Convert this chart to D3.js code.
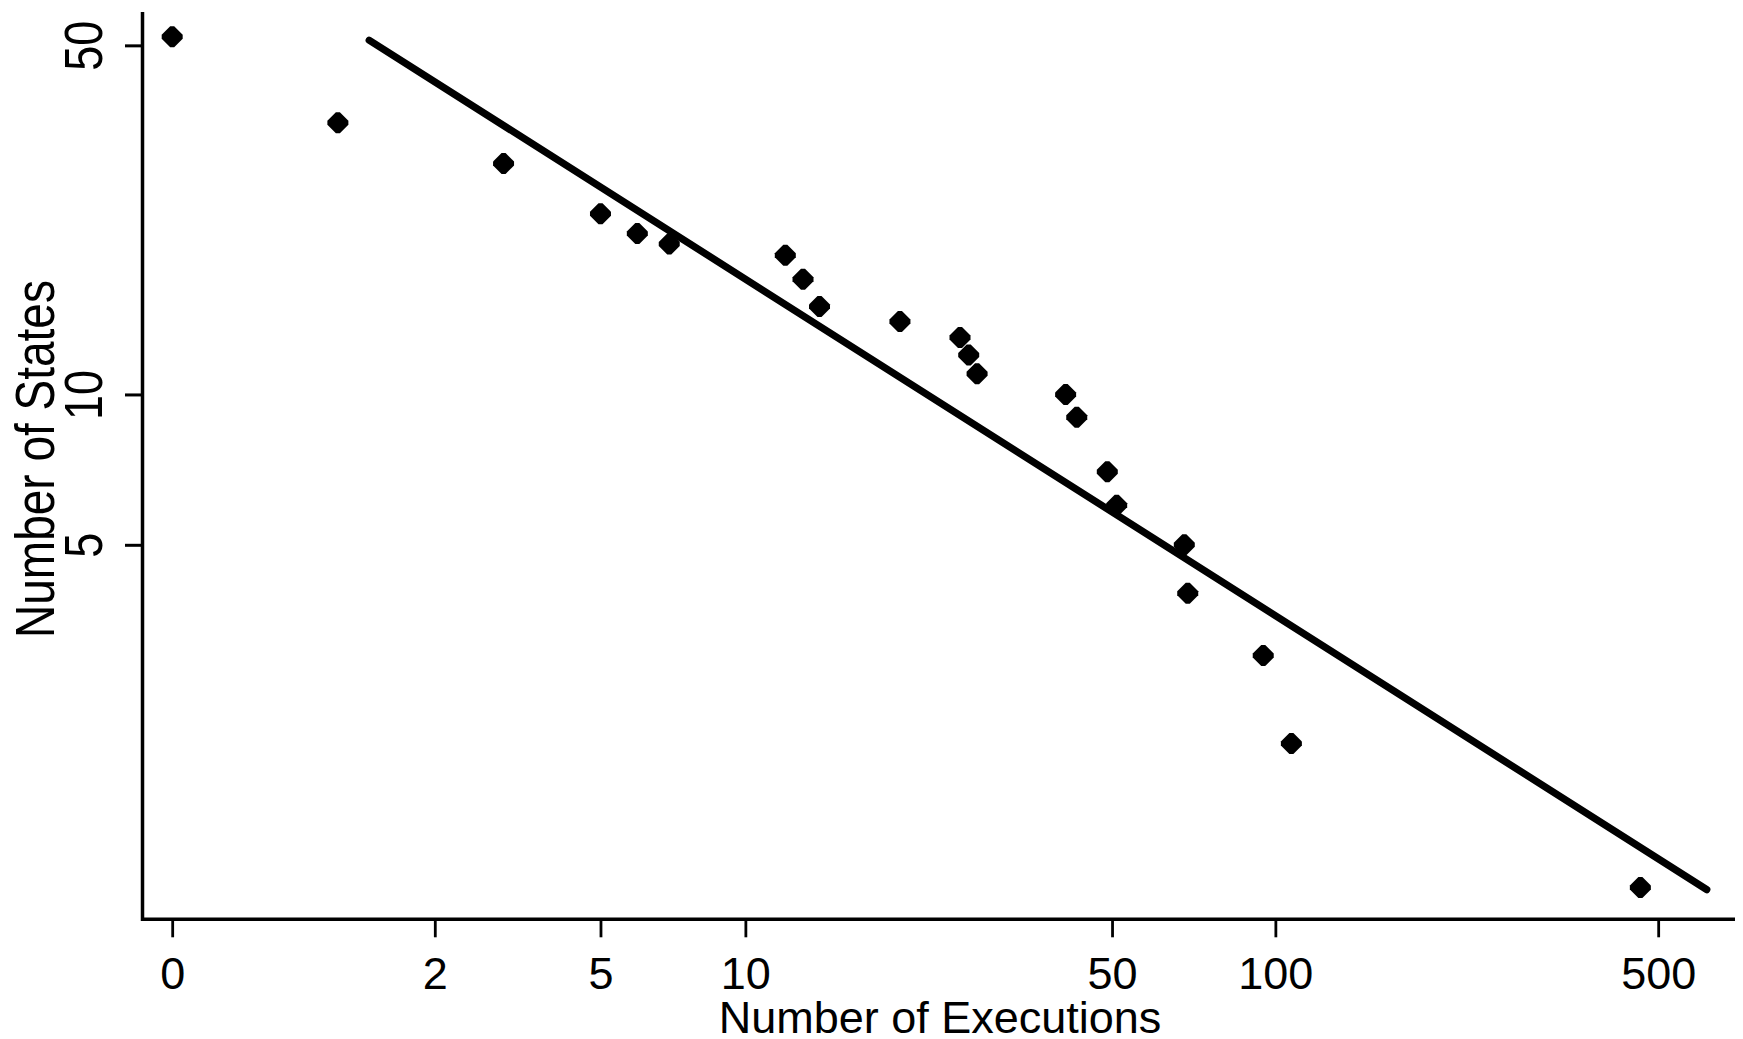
<!DOCTYPE html>
<html>
<head>
<meta charset="utf-8">
<script src="https://cdn.jsdelivr.net/npm/d3@7"></script>
<style>
  html, body { margin: 0; padding: 0; background: #fff; }
  svg { display: block; }
  text { font-family: "Liberation Sans", Arial, sans-serif; fill: #000; }
</style>
</head>
<body>
<svg id="chart" width="1743" height="1039"></svg>
<script>
// ---- data ----
const executions = [0, 1, 3, 5, 6, 7, 12, 13, 14, 20, 26, 27, 28, 41, 43, 49, 51, 68, 69, 95, 107, 464];
const states     = [52, 35, 29, 23, 21, 20, 19, 17, 15, 14, 13, 12, 11, 10, 9, 7, 6, 5, 4, 3, 2, 1.03];
// fitted line end points
const fitExecutions = [1.28, 613];
const fitStates     = [51.2, 1.02];
// tick labels
const xTickLabels = [0, 2, 5, 10, 50, 100, 500];
const yTickLabels = [5, 10, 50];
const xTitle = "Number of Executions";
const yTitle = "Number of States";

// ---- layout ----
const W = 1743, H = 1039;
const plotLeft = 142.5, plotRight = 1735, plotTop = 12, plotBottom = 919.3;

const svg = d3.select("#chart");
svg.append("rect").attr("width", W).attr("height", H).attr("fill", "#fff");

// x is plotted as log10(executions + 1)
const x = d3.scaleLog().domain([0.8832, 690.9]).range([plotLeft, plotRight]);
const y = d3.scaleLog().domain([0.8895, 58.31]).range([plotBottom, plotTop]);
const px = n => x(n + 1);

// fitted line
const fit = fitExecutions.map((e, i) => [e, fitStates[i]]);
svg.append("path")
  .attr("d", d3.line().x(d => px(d[0])).y(d => y(d[1]))(fit))
  .attr("fill", "none").attr("stroke", "#000")
  .attr("stroke-width", 7.2).attr("stroke-linecap", "round");

// points (filled diamonds)
const a = 10.5, b = 2;
const diamond = `M${-b},${-a}L${b},${-a}L${a},${-b}L${a},${b}L${b},${a}L${-b},${a}L${-a},${b}L${-a},${-b}Z`;
svg.append("g").selectAll("path")
  .data(executions.map((e, i) => ({e, s: states[i]})))
  .join("path")
  .attr("d", diamond)
  .attr("transform", d => `translate(${px(d.e)},${y(d.s)})`)
  .attr("fill", "#000");

// L-shaped box
svg.append("path")
  .attr("d", `M${plotLeft},${plotTop}V${plotBottom}H${plotRight}`)
  .attr("fill", "none").attr("stroke", "#000").attr("stroke-width", 3.5)
  .attr("stroke-linejoin", "miter").attr("stroke-linecap", "butt");

// x axis
const xAxis = d3.axisBottom(x)
  .tickValues(xTickLabels.map(d => d + 1))
  .tickFormat(d => String(Math.round(d - 1)))
  .tickSize(18).tickSizeOuter(0);
const gx = svg.append("g").attr("transform", `translate(0,${plotBottom})`).call(xAxis);
gx.select(".domain").remove();
gx.selectAll(".tick line").attr("stroke", "#000").attr("stroke-width", 2.8);
gx.selectAll(".tick text")
  .attr("y", 69.7).attr("dy", null)
  .style("font-size", "45px")
  .style("font-family", '"Liberation Sans", Arial, sans-serif')
  .attr("fill", "#000");
gx.attr("font-size", null).attr("font-family", null);

// y axis
const yAxis = d3.axisLeft(y)
  .tickValues(yTickLabels)
  .tickFormat(d => String(d))
  .tickSize(17.5).tickSizeOuter(0);
const gy = svg.append("g").attr("transform", `translate(${plotLeft},0)`).call(yAxis);
gy.select(".domain").remove();
gy.selectAll(".tick line").attr("stroke", "#000").attr("stroke-width", 3);
gy.selectAll(".tick text")
  .attr("x", null).attr("dy", null)
  .attr("text-anchor", "middle")
  .attr("transform", `translate(${101.5 - plotLeft},0) rotate(-90) scale(1,1.2)`)
  .style("font-size", "45px")
  .style("font-family", '"Liberation Sans", Arial, sans-serif')
  .attr("fill", "#000");
gy.attr("font-size", null).attr("font-family", null);

// titles
svg.append("text")
  .attr("x", 940).attr("y", 1032.7)
  .attr("text-anchor", "middle")
  .style("font-size", "45px")
  .text(xTitle);
svg.append("text")
  .attr("transform", `translate(54,459) rotate(-90) scale(1,1.22)`)
  .attr("text-anchor", "middle")
  .style("font-size", "46px")
  .text(yTitle);
</script>
</body>
</html>
